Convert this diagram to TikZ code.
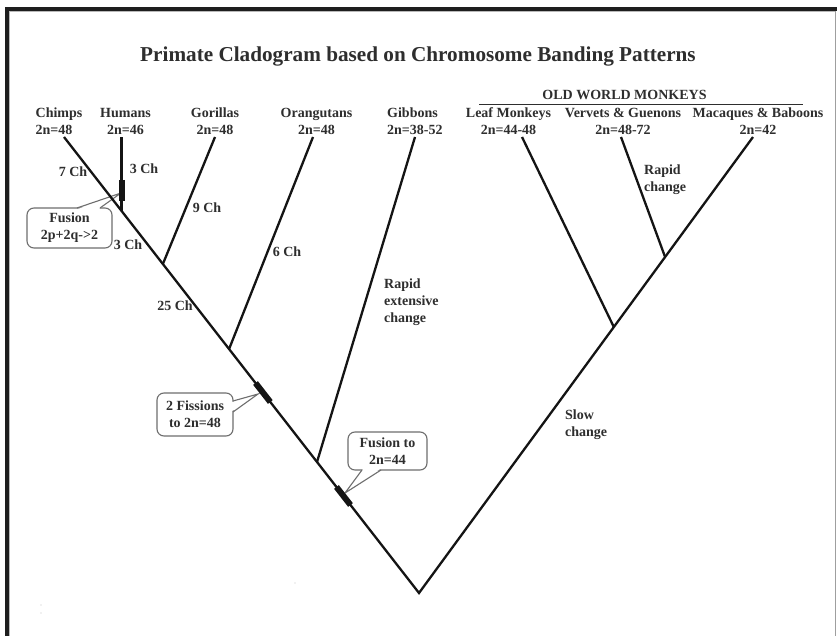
\documentclass[tikz,border=0pt]{standalone}
\usepackage{fontspec}
\setmainfont{Liberation Serif}
\usetikzlibrary{calc}
\definecolor{ink}{HTML}{2E2E2E}
\definecolor{branchc}{HTML}{141414}
\definecolor{boxc}{HTML}{6E6E6E}
\definecolor{framec}{HTML}{1E1E1E}
\begin{document}
\begin{tikzpicture}[x=1pt,y=-1pt,
  lbl/.style={font=\bfseries\fontsize{14}{17}\selectfont, text=ink, inner sep=0pt, align=center},
  titlestyle/.style={font=\bfseries\fontsize{21.2}{25}\selectfont, text=ink, inner sep=0pt},
  branch/.style={draw=branchc, line width=2.3pt, line cap=butt, line join=miter},
  band/.style={draw=branchc, line width=6pt, line cap=butt},
  callbox/.style={draw=boxc, line width=1.1pt, rounded corners=7pt, fill=white, inner sep=0pt,
    font=\bfseries\fontsize{14}{17}\selectfont, text=ink, align=center},
  ptr/.style={draw=boxc, line width=1.1pt, line join=miter}]
\useasboundingbox (0,0) rectangle (837,636);
\fill[white] (0,0) rectangle (837,636);
% frame
\draw[framec, line width=4pt] (7,636) -- (7,9) -- (837,9);
\draw[gray!55, line width=1pt] (9.5,636) -- (9.5,11.5) -- (835,11.5);
\draw[gray!75, line width=1.2pt] (835.5,11) -- (835.5,636);
% specks
\fill[gray!45] (41,605) circle (0.6) (41,613) circle (0.6) (295,583) circle (0.6);

% title
\node[titlestyle] (title) at (418,56) {Primate Cladogram based on Chromosome Banding Patterns};

% group heading
\node[lbl] (owm) at (624.5,95) {OLD WORLD MONKEYS};
\coordinate (owmL) at (479,104.5);
\coordinate (owmR) at (803,104.5);
\draw[ink, line width=1.3pt] (owmL) -- (owmR);

% tip labels
\node[lbl, align=left, anchor=west] (chimpsL) at (35.5,121.5) {Chimps\\2n=48};
\node[lbl] (humansL) at (125.5,121.5) {Humans\\2n=46};
\node[lbl] (gorillasL) at (215,121.5) {Gorillas\\2n=48};
\node[lbl] (orangL) at (316.5,121.5) {Orangutans\\2n=48};
\node[lbl, align=left, anchor=west] (gibbonsL) at (387,121.5) {Gibbons\\2n=38-52};
\node[lbl] (leafL) at (508.5,121.5) {Leaf Monkeys\\2n=44-48};
\node[lbl] (vervL) at (623,121.5) {Vervets \& Guenons\\2n=48-72};
\node[lbl] (macL) at (758,121.5) {Macaques \& Baboons\\2n=42};

% tree coordinates
\coordinate (root) at (419,593);
\coordinate (chimpTip) at (64,137);
\coordinate (macTip) at (753,137);
\coordinate (humJ) at ($(root)!0.8377!(chimpTip)$);
\coordinate (gorJ) at ($(root)!0.7215!(chimpTip)$);
\coordinate (oraJ) at ($(root)!0.535!(chimpTip)$);
\coordinate (gibJ) at ($(root)!0.2873!(chimpTip)$);
\coordinate (leafJ) at ($(root)!0.5833!(macTip)$);
\coordinate (verJ) at ($(root)!0.7368!(macTip)$);
\coordinate (humTip) at (humJ |- chimpTip);
\coordinate (gorTip) at (215,137);
\coordinate (oraTip) at (313,137);
\coordinate (gibTip) at (415,137);
\coordinate (leafTip) at (522,137);
\coordinate (verTip) at (621,137);

% callouts (drawn under the branches)
\node[callbox, minimum width=85pt, minimum height=40pt] (fusbox) at (69.5,228) {Fusion\\2p+2q->2};
\coordinate (fusTip) at (121,193);
\fill[white] (78,209) -- (fusTip) -- (99,209) -- cycle;
\draw[ptr] (77,208) -- (fusTip) -- (100,208);

\node[callbox, minimum width=76pt, minimum height=43pt] (fisbox) at (195,414.5) {2 Fissions\\to 2n=48};
\coordinate (fisTip) at (258,394);
\fill[white] (232,402) -- (fisTip) -- (232,411) -- cycle;
\draw[ptr] (233,401) -- (fisTip) -- (233,412);

\node[callbox, minimum width=79pt, minimum height=38pt] (f44box) at (387.5,451) {Fusion to\\2n=44};
\coordinate (f44Tip) at (345,493);
\fill[white] (363,469) -- (f44Tip) -- (380,469) -- cycle;
\draw[ptr] (362,470) -- (f44Tip) -- (381,470);

% branches
\draw[branch] (chimpTip) -- (root) -- (macTip);
\draw[branch] (humJ) -- (humTip);
\draw[branch] (gorJ) -- (gorTip);
\draw[branch] (oraJ) -- (oraTip);
\draw[branch] (gibJ) -- (gibTip);
\draw[branch] (leafJ) -- (leafTip);
\draw[branch] (verJ) -- (verTip);

% chromosome change bands
\draw[band] (humJ |- 0,180) -- (humJ |- 0,201);
\draw[band] ($(root)!0.4605!(chimpTip)$) -- ($(root)!0.4189!(chimpTip)$);
\draw[band] ($(root)!0.2325!(chimpTip)$) -- ($(root)!0.193!(chimpTip)$);

% branch labels
\node[lbl] (ch7) at (73,172) {7 Ch};
\node[lbl] (ch3a) at (144,169) {3 Ch};
\node[lbl] (ch3b) at (128,245) {3 Ch};
\node[lbl] (ch9) at (207,208) {9 Ch};
\node[lbl] (ch6) at (287,252) {6 Ch};
\node[lbl] (ch25) at (175,306) {25 Ch};
\node[lbl, align=left, anchor=west] (rapidExt) at (384,302) {Rapid\\extensive\\change};
\node[lbl, align=left, anchor=west] (rapidCh) at (644,180) {Rapid\\change};
\node[lbl, align=left, anchor=west] (slowCh) at (565,425) {Slow\\change};
\end{tikzpicture}
\end{document}
